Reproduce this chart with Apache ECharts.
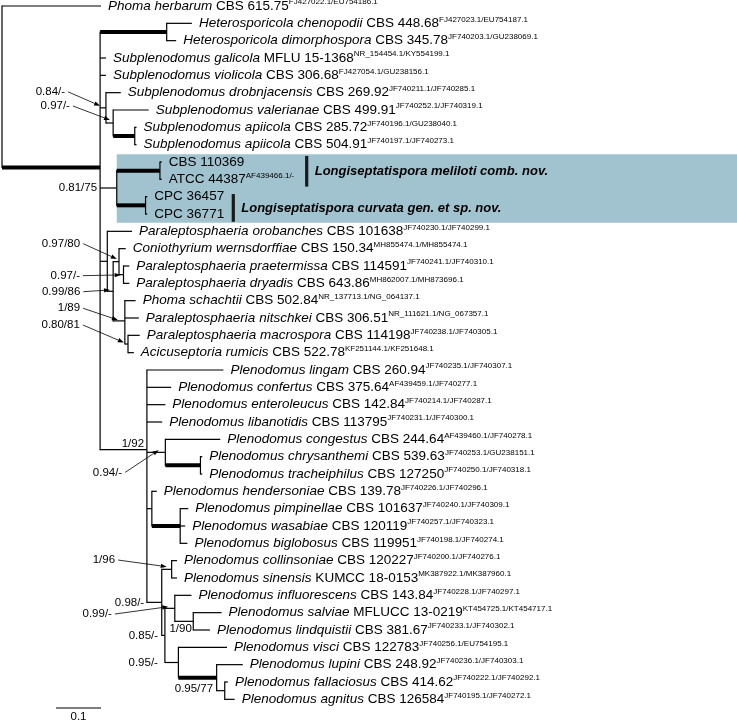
<!DOCTYPE html>
<html><head><meta charset="utf-8">
<script src="https://cdn.jsdelivr.net/npm/echarts@6/dist/echarts.min.js"></script>
<style>html,body{margin:0;padding:0;background:#fff}#c{width:737px;height:720px}</style>
</head><body><div id="c"></div>
<script>
// ---------- DATA ----------
const leafTaxa = [
'Phoma herbarum','Heterosporicola chenopodii','Heterosporicola dimorphospora','Subplenodomus galicola',
'Subplenodomus violicola','Subplenodomus drobnjacensis','Subplenodomus valerianae','Subplenodomus apiicola',
'Subplenodomus apiicola','','','','',
'Paraleptosphaeria orobanches','Coniothyrium wernsdorffiae','Paraleptosphaeria praetermissa','Paraleptosphaeria dryadis',
'Phoma schachtii','Paraleptosphaeria nitschkei','Paraleptosphaeria macrospora','Acicuseptoria rumicis',
'Plenodomus lingam','Plenodomus confertus','Plenodomus enteroleucus','Plenodomus libanotidis',
'Plenodomus congestus','Plenodomus chrysanthemi','Plenodomus tracheiphilus','Plenodomus hendersoniae',
'Plenodomus pimpinellae','Plenodomus wasabiae','Plenodomus biglobosus','Plenodomus collinsoniae',
'Plenodomus sinensis','Plenodomus influorescens','Plenodomus salviae','Plenodomus lindquistii',
'Plenodomus visci','Plenodomus lupini','Plenodomus fallaciosus','Plenodomus agnitus'];
const leafStrains = ['CBS 615.75','CBS 448.68','CBS 345.78','MFLU 15-1368','CBS 306.68','CBS 269.92','CBS 499.91',
'CBS 285.72','CBS 504.91','CBS 110369','ATCC 44387','CPC 36457','CPC 36771','CBS 101638','CBS 150.34','CBS 114591',
'CBS 643.86','CBS 502.84','CBS 306.51','CBS 114198','CBS 522.78','CBS 260.94','CBS 375.64','CBS 142.84','CBS 113795',
'CBS 244.64','CBS 539.63','CBS 127250','CBS 139.78','CBS 101637','CBS 120119','CBS 119951','CBS 120227',
'KUMCC 18-0153','CBS 143.84','MFLUCC 13-0219','CBS 381.67','CBS 122783','CBS 248.92','CBS 414.62','CBS 126584'];
const leafAccessions = ['FJ427022.1/EU754186.1','FJ427023.1/EU754187.1','JF740203.1/GU238069.1','NR_154454.1/KY554199.1',
'FJ427054.1/GU238156.1','JF740211.1/JF740285.1','JF740252.1/JF740319.1','JF740196.1/GU238040.1','JF740197.1/JF740273.1',
'','AF439466.1/-','','','JF740230.1/JF740299.1','MH855474.1/MH855474.1','JF740241.1/JF740310.1','MH862007.1/MH873696.1',
'NR_137713.1/NG_064137.1','NR_111621.1/NG_067357.1','JF740238.1/JF740305.1','KF251144.1/KF251648.1','JF740235.1/JF740307.1',
'AF439459.1/JF740277.1','JF740214.1/JF740287.1','JF740231.1/JF740300.1','AF439460.1/JF740278.1','JF740253.1/GU238151.1',
'JF740250.1/JF740318.1','JF740226.1/JF740296.1','JF740240.1/JF740309.1','JF740257.1/JF740323.1','JF740198.1/JF740274.1',
'JF740200.1/JF740276.1','MK387922.1/MK387960.1','JF740228.1/JF740297.1','KT454725.1/KT454717.1','JF740233.1/JF740302.1',
'JF740256.1/EU754195.1','JF740236.1/JF740303.1','JF740222.1/JF740292.1','JF740195.1/JF740272.1'];

// tree topology with branch lengths (leaves numbered in display order)
const treeNewick =
'(1:0.220,((2:0.056,3:0.021)H:0.148,4:0.013,5:0.013,' +
'(6:0.033,(7:0.079,(8:0.004,9:0.004)S3:0.048)S2:0.016)S1:0.013,' +
'((10:0.004,11:0.004)L1:0.096,(12:0.004,13:0.004)L2:0.064)L:0.037,' +
'(14:0.055,((15:0.015,(16:0.013,17:0.013)P4:0.010)P3:0.013,(18:0.024,19:0.031,(20:0.026,21:0.013)P6:0.007)P5:0.026)P2:0.013)P1:0.016,' +
'(22:0.170,23:0.054,24:0.041,25:0.034,(26:0.122,(27:0.004,28:0.004)PL3:0.078)PL2:0.041,' +
'(29:0.011,(30:0.018,31:0.011,32:0.016)HC2:0.063)HC:0.011,' +
'((33:0.012,34:0.012)Q1:0.022,((35:0.037,(36:0.063,37:0.037)Q23:0.041)Q2:0.022,' +
'(38:0.108,(39:0.058,(40:0.007,41:0.022)Q6:0.018)Q5:0.085)Q4:0.030)Q3:0.007)Q:0.033)PL:0.104)B:0.218)R;';
const thickNodes = ['B','H','S3','L1','L2','PL3','HC2','Q5'];

const supportNodes = ['S1','S2','L','P3','P4','P2','P5','P6','PL','PL2','Q1','Q','Q2','Q23','Q3','Q4','Q5'];
const supportTexts = ['0.84/-','0.97/-','0.81/75','0.97/80','0.97/-','0.99/86','1/89','0.80/81','1/92','0.94/-',
                      '1/96','0.98/-','0.99/-','1/90','0.85/-','0.95/-','0.95/77'];

const cladeNames = ['Longiseptatispora meliloti comb. nov.', 'Longiseptatispora curvata gen. et sp. nov.'];
const cladeLeaves = [[10, 11], [12, 13]];
const highlightLeaves = [10, 13];
const scaleBarLength = 0.1;

// ---------- LAYOUT (style only) ----------
// [text right-end dx, dy, arrow tip dx, dy, hasArrow] in px relative to the branch attach point
const supportLayout = [
 [-35,-16,0,-2,1],[-36,-17,4,-3,1],[-3,0,0,0,0],[-33,-18,3.7,-2.7,1],[-39,1,1.7,0.3,1],[-27,0.4,2.7,-1.3,1],
 [-33,-12.6,4.7,-0.9,1],[-45,-19,-1,-1.5,1],[44,-6,0,0,0],[-24.7,20,11.8,-2.2,1],[-46.7,-9.3,5,-2.6,1],
 [-2.7,0,0,0,0],[-53,5.7,3.3,-1.6,1],[17,7,0,0,0],[-3.7,0,0,0,0],[-7,0,0,0,0],[34.7,11.3,0,0,0]];
const cladeBarX = [306.7, 233.3];
const cladeBarPad = [[-0.35, 0.42], [-0.15, 0.45]];
const FONT = '"Liberation Sans", Arial, sans-serif';
const LEAF_FS = 13.5;

// ---------- PARSE ----------
function parseNewick(s) {
  let i = 0;
  function node() {
    const n = { children: [], name: '', len: 0 };
    if (s[i] === '(') {
      i++;
      n.children.push(node());
      while (s[i] === ',') { i++; n.children.push(node()); }
      i++;
    }
    let name = '';
    while (i < s.length && !',():;'.includes(s[i])) name += s[i++];
    n.name = name;
    if (s[i] === ':') {
      i++; let num = '';
      while (i < s.length && !',();'.includes(s[i])) num += s[i++];
      n.len = parseFloat(num);
    }
    return n;
  }
  return node();
}
const root = parseNewick(treeNewick);
const nodeList = [];
const byName = {};
function layout(n, x0) {
  n.px = x0; n.x = x0 + n.len;
  if (!n.children.length) { n.leaf = parseInt(n.name, 10); n.y = n.leaf; n.ymin = n.ymax = n.y; }
  else {
    n.children.forEach(c => layout(c, n.x));
    const ys = n.children.map(c => c.y);
    n.y = ys.reduce((a, b) => a + b, 0) / ys.length;
    n.ymin = Math.min(...ys); n.ymax = Math.max(...ys); n.leaf = 0;
  }
  byName[n.name] = n;
  nodeList.push(n);
}
layout(root, 0);

const treeData = nodeList.map(n => [n.x, n.y, n.px, n.ymin, n.ymax, thickNodes.includes(n.name) ? 1 : 0, n.leaf]);
const supportData = supportNodes.map(nm => [byName[nm].px, byName[nm].y]);

function leafText(k) {
  const t = leafTaxa[k], s = leafStrains[k], a = leafAccessions[k];
  let r = t ? '{i|' + t + ' }{n|' + s + '}' : '{n|' + s + '}';
  if (a) r += '{s|' + a + '}';
  return r;
}
const richStyles = {
  i: { fontStyle: 'italic', fontSize: LEAF_FS, fontFamily: FONT, lineHeight: 16, fill: '#000' },
  n: { fontSize: LEAF_FS, fontFamily: FONT, lineHeight: 16, fill: '#000' },
  s: { fontSize: 8, fontFamily: FONT, lineHeight: 10.5, verticalAlign: 'top', fill: '#000' }
};

const chart = echarts.init(document.getElementById('c'), null, { renderer: 'canvas' });
const option = {
  animation: false,
  backgroundColor: '#fff',
  grid: { left: 2, top: 6, width: 675, height: 693.33 },
  xAxis: { type: 'value', min: 0, max: 1.5, show: false },
  yAxis: { type: 'value', min: 1, max: 41, inverse: true, show: false },
  series: [
    { // highlight box
      type: 'custom', clip: false, z: 1,
      data: [[byName['L'].x, highlightLeaves[0], highlightLeaves[1]]],
      renderItem(params, api) {
        const a = api.coord([api.value(0), api.value(1) - 0.45]);
        const b = api.coord([api.value(0), api.value(2) + 0.5]);
        return { type: 'rect', shape: { x: a[0], y: a[1], width: 737 - a[0], height: b[1] - a[1] },
                 style: { fill: '#a0c3cf' } };
      }
    },
    { // tree branches and leaf labels
      type: 'custom', clip: false, z: 3,
      data: treeData,
      renderItem(params, api) {
        const x = api.value(0), y = api.value(1), px = api.value(2), ymin = api.value(3), ymax = api.value(4);
        const thick = api.value(5), leaf = api.value(6);
        const p = api.coord([x, y]), pp = api.coord([px, y]);
        const ch = [];
        if (x > px) ch.push({ type: 'line', shape: { x1: pp[0], y1: p[1], x2: p[0], y2: p[1] },
                              style: { stroke: '#000', lineWidth: thick ? 4 : 1.2, lineCap: 'butt' } });
        if (!leaf) {
          const a = api.coord([x, ymin]), b = api.coord([x, ymax]);
          ch.push({ type: 'line', shape: { x1: a[0], y1: a[1] - 0.6, x2: b[0], y2: b[1] + 0.6 },
                    style: { stroke: '#000', lineWidth: 1.2 } });
        } else {
          ch.push({ type: 'text', style: { x: p[0] + 7, y: p[1], text: leafText(leaf - 1), rich: richStyles,
                    verticalAlign: 'middle', align: 'left', fill: '#000', fontSize: LEAF_FS, fontFamily: FONT } });
        }
        return { type: 'group', children: ch };
      }
    },
    { // support values
      type: 'custom', clip: false, z: 4,
      data: supportData,
      renderItem(params, api) {
        const k = params.dataIndex, L = supportLayout[k];
        const p = api.coord([api.value(0), api.value(1)]);
        const tx = p[0] + L[0], ty = p[1] + L[1];
        const ch = [{ type: 'text', style: { x: tx, y: ty, text: supportTexts[k], align: 'right', verticalAlign: 'middle',
                      fontSize: 11.5, fontFamily: FONT, fill: '#000' } }];
        if (L[4]) {
          const sx = tx + 3, sy = ty, ex = p[0] + L[2], ey = p[1] + L[3];
          const ang = Math.atan2(ey - sy, ex - sx), hl = 6, hw = 2.2;
          const bx = ex - hl * Math.cos(ang), by = ey - hl * Math.sin(ang);
          ch.push({ type: 'line', shape: { x1: sx, y1: sy, x2: bx, y2: by }, style: { stroke: '#000', lineWidth: 0.8 } });
          ch.push({ type: 'polygon', shape: { points: [[ex, ey],
                    [bx + hw * Math.sin(ang), by - hw * Math.cos(ang)], [bx - hw * Math.sin(ang), by + hw * Math.cos(ang)]] },
                    style: { fill: '#000' } });
        }
        return { type: 'group', children: ch };
      }
    },
    { // clade bars and names
      type: 'custom', clip: false, z: 4,
      data: cladeLeaves.map(c => [c[0], c[1]]),
      renderItem(params, api) {
        const k = params.dataIndex;
        const a = api.coord([0, api.value(0) + cladeBarPad[k][0]]), b = api.coord([0, api.value(1) + cladeBarPad[k][1]]);
        const x = cladeBarX[k];
        return { type: 'group', children: [
          { type: 'rect', shape: { x: x - 1.6, y: a[1], width: 3.2, height: b[1] - a[1] }, style: { fill: '#1a1a1a' } },
          { type: 'text', style: { x: x + 8, y: (a[1] + b[1]) / 2, text: cladeNames[k], align: 'left', verticalAlign: 'middle',
            fontSize: 13, fontWeight: 'bold', fontStyle: 'italic', fontFamily: FONT, fill: '#000' } }
        ] };
      }
    },
    { // scale bar
      type: 'custom', clip: false, z: 4,
      data: [[0.12, 41.5]],
      renderItem(params, api) {
        const a = api.coord([api.value(0), api.value(1)]), b = api.coord([api.value(0) + scaleBarLength, api.value(1)]);
        return { type: 'group', children: [
          { type: 'line', shape: { x1: a[0], y1: a[1], x2: b[0], y2: b[1] }, style: { stroke: '#000', lineWidth: 1.2 } },
          { type: 'text', style: { x: (a[0] + b[0]) / 2, y: a[1] + 3, text: String(scaleBarLength), align: 'center',
            verticalAlign: 'top', fontSize: 11.5, fontFamily: FONT, fill: '#000' } }
        ] };
      }
    }
  ]
};
chart.setOption(option);
</script></body></html>
